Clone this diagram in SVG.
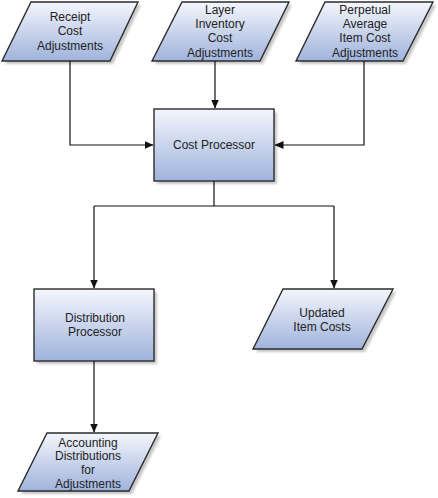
<svg xmlns="http://www.w3.org/2000/svg" width="438" height="498" viewBox="0 0 438 498">
<defs>
<linearGradient id="g" x1="0" y1="0" x2="0" y2="1">
<stop offset="0" stop-color="#f4f6fc"/>
<stop offset="1" stop-color="#9fb3dc"/>
</linearGradient>
<marker id="ah" markerWidth="9" markerHeight="8" refX="8.5" refY="4" orient="auto" markerUnits="userSpaceOnUse">
<path d="M0,0 L9,4 L0,8 Z" fill="#111"/>
</marker>
<filter id="sh" x="-10%" y="-10%" width="130%" height="130%">
<feGaussianBlur stdDeviation="1"/>
</filter>
</defs>
<style>
.shape{fill:url(#g);stroke:#2b2b2b;stroke-width:1.4}
.shadow{fill:#999;opacity:0.55;filter:url(#sh)}
.t{font-family:"Liberation Sans",Arial,sans-serif;font-size:12px;fill:#222;text-anchor:middle}
.c{fill:none;stroke:#111;stroke-width:1.2}
</style>
<g id="receipt">
<polygon class="shadow" points="34,5 141,5 113,64 5,64"/>
<polygon class="shape" points="31,2 138,2 110,61 2,61"/>
<text class="t" x="70" y="21">Receipt</text>
<text class="t" x="70" y="35">Cost</text>
<text class="t" x="70" y="50">Adjustments</text>
</g>
<g id="layer">
<polygon class="shadow" points="185,5 292,5 263,64 155,64"/>
<polygon class="shape" points="182,2 289,2 260,61 152,61"/>
<text class="t" x="220" y="14">Layer</text>
<text class="t" x="220" y="28">Inventory</text>
<text class="t" x="220" y="42">Cost</text>
<text class="t" x="220" y="57">Adjustments</text>
</g>
<g id="perpetual">
<polygon class="shadow" points="328,5 436,5 406,64 299,64"/>
<polygon class="shape" points="325,2 433,2 403,61 296,61"/>
<text class="t" x="365" y="14">Perpetual</text>
<text class="t" x="365" y="28">Average</text>
<text class="t" x="365" y="42">Item Cost</text>
<text class="t" x="365" y="57">Adjustments</text>
</g>
<g id="costproc">
<rect class="shadow" x="157" y="112" width="120" height="72"/>
<rect class="shape" x="154" y="109" width="120" height="72"/>
<text class="t" x="214" y="149">Cost Processor</text>
</g>
<g id="distproc">
<rect class="shadow" x="37" y="292" width="120" height="72"/>
<rect class="shape" x="34" y="289" width="120" height="72"/>
<text class="t" x="95" y="322">Distribution</text>
<text class="t" x="95" y="336">Processor</text>
</g>
<g id="updated">
<polygon class="shadow" points="286,292 396,292 365,352 256,352"/>
<polygon class="shape" points="283,289 393,289 362,349 253,349"/>
<text class="t" x="322" y="317">Updated</text>
<text class="t" x="322" y="331">Item Costs</text>
</g>
<g id="accounting">
<polygon class="shadow" points="50,436 161,436 132,494 21,494"/>
<polygon class="shape" points="47,433 158,433 129,491 18,491"/>
<text class="t" x="88" y="447">Accounting</text>
<text class="t" x="88" y="460">Distributions</text>
<text class="t" x="88" y="474">for</text>
<text class="t" x="88" y="488">Adjustments</text>
</g>
<g id="connectors">
<polyline class="c" points="70,61 70,145 153,145" marker-end="url(#ah)"/>
<polyline class="c" points="215,61 215,108" marker-end="url(#ah)"/>
<polyline class="c" points="364,61 364,145 275,145" marker-end="url(#ah)"/>
<polyline class="c" points="214,181 214,206"/>
<polyline class="c" points="94,206 334,206"/>
<polyline class="c" points="94,206 94,288" marker-end="url(#ah)"/>
<polyline class="c" points="334,206 334,288" marker-end="url(#ah)"/>
<polyline class="c" points="94,361 94,432" marker-end="url(#ah)"/>
</g>
</svg>
